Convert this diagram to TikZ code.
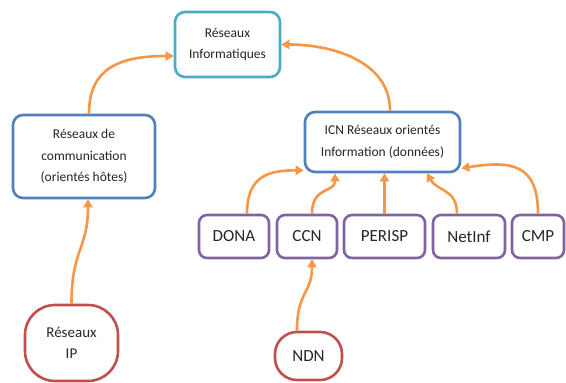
\documentclass[tikz,border=0pt]{standalone}
\usepackage{fontspec}
\setmainfont{Carlito}
\usetikzlibrary{arrows.meta}
\definecolor{cyanline}{HTML}{4BACC6}
\definecolor{blueline}{HTML}{4F81BD}
\definecolor{purpleline}{HTML}{8064A2}
\definecolor{redline}{HTML}{C0504D}
\definecolor{orangeline}{HTML}{F79646}
\definecolor{txt}{HTML}{262626}
\begin{document}
\begin{tikzpicture}[x=1pt,y=-1pt,
  box/.style={draw, line width=2.6pt, fill=white, rounded corners=10pt,
    align=center, text=txt, inner sep=0pt,
    font=\fontsize{13.5}{21.5}\selectfont},
  topbox/.style={box, draw=cyanline},
  midbox/.style={box, draw=blueline},
  leafbox/.style={box, draw=purpleline, rounded corners=8pt,
    minimum height=43pt, font=\fontsize{17}{20}\selectfont},
  rootbox/.style={box, draw=redline},
  link/.style={draw=orangeline, line width=2.6pt,
    -{Triangle[length=8pt,width=9pt]}}]
\useasboundingbox (0,0) rectangle (566,383);
\fill[white] (0,0) rectangle (566,383);

% upper levels
\node[topbox, minimum width=105pt, minimum height=65pt] (info) at (227.5,44.5)
  {Réseaux\\Informatiques};
\node[midbox, minimum width=142pt, minimum height=83pt] (comm) at (84,156.5)
  {Réseaux de\\communication\\(orientés hôtes)};
\node[midbox, minimum width=155pt, minimum height=60pt] (icn) at (382.5,142)
  {ICN Réseaux orientés\\Information (données)};

% ICN architectures
\node[leafbox, minimum width=70pt] (dona)   at (234,236.5) {DONA};
\node[leafbox, minimum width=60pt] (ccn)    at (307,236.5) {CCN};
\node[leafbox, minimum width=81pt] (perisp) at (384.5,236.5) {PERISP};
\node[leafbox, minimum width=72pt] (netinf) at (469,236.5) {NetInf};
\node[leafbox, minimum width=52pt] (cmp)    at (538,236.5) {CMP};

% bottom level
\node[rootbox, rounded corners=30pt, minimum width=93pt, minimum height=76pt,
  font=\fontsize{15}{21}\selectfont] (ip) at (71.5,343) {Réseaux\\IP};
\node[rootbox, rounded corners=22pt, minimum width=67pt, minimum height=48pt,
  font=\fontsize{17}{20}\selectfont] (ndn) at (308.5,356) {NDN};

% connectors
\draw[link] ([xshift=5pt]comm.north) .. controls +(0,-45) and +(-55,0) ..
  ([yshift=-11.5pt]info.west);
\draw[link] ([xshift=7.5pt]icn.north) .. controls +(0,-50) and +(50,0) ..
  (info.east);
\draw[link] (ip.north) .. controls +(0,-55) and +(0,50) ..
  ([xshift=4pt]comm.south);
\draw[link] ([xshift=13pt]dona.north) .. controls +(0,-38) and +(-35,0) ..
  ([yshift=3pt]icn.south west);
\draw[link] ([xshift=5pt]ccn.north) .. controls +(0,-28) and +(0,20) ..
  ([xshift=-47.5pt]icn.south);
\draw[link] (perisp.north) -- (perisp.north |- icn.south);
\draw[link] ([xshift=-12pt]netinf.north) .. controls +(0,-25) and +(10,18) ..
  ([xshift=44.5pt]icn.south);
\draw[link] (cmp.north) .. controls +(0,-50) and +(50,-8) ..
  ([yshift=5pt]icn.south east);
\draw[link] ([xshift=-11.5pt]ndn.north) .. controls +(0,-40) and +(0,35) ..
  ([xshift=5pt]ccn.south);
\end{tikzpicture}
\end{document}
